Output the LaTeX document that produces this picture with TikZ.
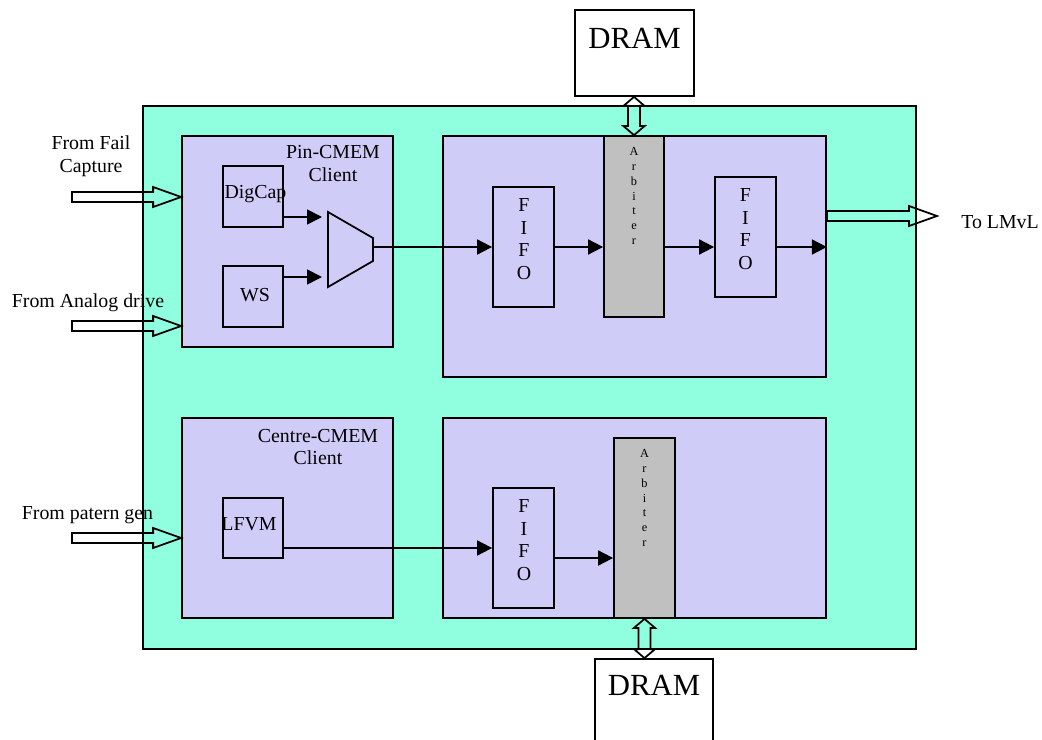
\documentclass[tikz,border=0pt]{standalone}
\usepackage{fontspec}
\setmainfont{Liberation Serif}
\usetikzlibrary{fit,calc,arrows.meta}

\definecolor{chipgreen}{RGB}{143,255,223}
\definecolor{clientblue}{RGB}{208,204,248}
\definecolor{arbgray}{RGB}{192,192,192}

\tikzset{
  blk/.style={draw, line width=1pt, inner sep=0pt},
  client/.style={blk, fill=clientblue},
  arb/.style={blk, fill=arbgray},
  txt/.style={font=\fontsize{11.3}{13}\selectfont, align=center, inner sep=0pt},
  letters/.style={font=\fontsize{11.3}{12.9}\selectfont, align=center, inner sep=0pt},
  smallletters/.style={font=\fontsize{7}{8.5}\selectfont, align=center, inner sep=0pt},
  sig/.style={line width=1pt, -{Triangle[length=8.5pt,width=8.5pt]}},
  hollow/.style={line width=1pt, line join=miter},
}

% hollow block arrow, tail #1, tip #2
\newcommand{\bigarrow}[2]{%
  \draw[hollow] ($(#1)+(0,-5)$) -- ($(#2)+(-28,-5)$) -- ($(#2)+(-28,-10)$) -- (#2)
    -- ($(#2)+(-28,10)$) -- ($(#2)+(-28,5)$) -- ($(#1)+(0,5)$) -- cycle;}
% hollow two-way bus arrow, top #1, bottom #2
\newcommand{\buslink}[2]{%
  \draw[hollow] (#1) -- ($(#1)+(10.5,9)$) -- ($(#1)+(6,9)$) -- ($(#2)+(6,-9)$)
    -- ($(#2)+(10.5,-9)$) -- (#2) -- ($(#2)+(-10.5,-9)$) -- ($(#2)+(-6,-9)$)
    -- ($(#1)+(-6,9)$) -- ($(#1)+(-10.5,9)$) -- cycle;}

\begin{document}
\begin{tikzpicture}[x=0.02cm, y=-0.02cm]
\useasboundingbox (0,0) rectangle (1042,740);

% chip
\node[blk, fill=chipgreen, fit={(143,106) (916,649)}] (chip) {};

% DRAMs
\node[blk, fill=white, fit={(575,10) (694,96)}] (dramtop) {};
\node[font=\fontsize{17.5}{20}\selectfont, inner sep=0pt] (dramtoptxt) at (634.5,38) {DRAM};
\node[blk, fill=white, fit={(595,659) (713,760)}] (drambot) {};
\node[font=\fontsize{17.5}{20}\selectfont, inner sep=0pt] (drambottxt) at (654,685) {DRAM};

% clients
\node[client, fit={(182,136) (393,347)}] (pinclient) {};
\node[txt] (pinlbl) at (333,163.5) {Pin-CMEM\\Client};
\node[client, fit={(182,418) (393,618)}] (centreclient) {};
\node[txt] (centrelbl) at (318,447) {Centre-CMEM\\Client};

% paths
\node[client, fit={(443,136) (826,377)}] (upper) {};
\node[client, fit={(443,418) (826,618)}] (lower) {};

% units
\node[blk, fit={(223,166) (283,227)}] (digcap) {};
\node[txt] (digcaptxt) at (255.5,194) {DigCap};
\node[blk, fit={(223,266) (283,327)}] (ws) {};
\node[txt] (wstxt) at (255,295) {WS};
\node[blk, fit={(223,498) (283,558)}] (lfvm) {};
\node[txt] (lfvmtxt) at (249,524) {LFVM};

\node[blk, fit={(493,187) (554,307)}] (fifoA) {};
\node[letters] (fifoAtxt) at (524,239) {F\\I\\F\\O};
\node[blk, fit={(715,177) (776,297)}] (fifoB) {};
\node[letters] (fifoBtxt) at (745.5,229) {F\\I\\F\\O};
\node[blk, fit={(493,488) (554,608)}] (fifoC) {};
\node[letters] (fifoCtxt) at (524,540) {F\\I\\F\\O};

\node[arb, fit={(604,136) (664,317)}] (arbA) {};
\node[smallletters] (arbAtxt) at (634,196) {A\\r\\b\\i\\t\\e\\r};
\node[arb, fit={(614,438) (675,618)}] (arbB) {};
\node[smallletters] (arbBtxt) at (644.5,498) {A\\r\\b\\i\\t\\e\\r};

% mux
\draw[line width=1pt, fill=clientblue] (328,212) -- (373,238) -- (373,261) -- (328,287) -- cycle;
\coordinate (muxa) at (322,217);
\coordinate (muxb) at (322,277);
\coordinate (muxout) at (373,247);

% signals
\draw[sig] (muxa -| digcap.east) -- (muxa);
\draw[sig] (muxb -| ws.east) -- (muxb);
\draw[sig] (muxout) -- (muxout -| fifoA.west);
\draw[sig] (fifoA.east) -- (fifoA.east -| arbA.west);
\draw[sig] (fifoA.east -| arbA.east) -- (fifoA.east -| fifoB.west);
\draw[sig] (fifoA.east -| fifoB.east) -- (fifoA.east -| upper.east);
\draw[sig] (fifoC.west -| lfvm.east) -- (fifoC.west);
\coordinate (fifoCout) at ($(fifoC.east)+(0,10)$);
\draw[sig] (fifoCout) -- (fifoCout -| arbB.west);

% DRAM buses
\buslink{arbA.north |- dramtop.south}{arbA.north}
\buslink{arbB.south}{arbB.south |- drambot.north}

% inputs
\node[txt] (faillbl) at (91,156) {From Fail\\Capture};
\coordinate (failin) at (72,197);
\coordinate (failtip) at (failin -| pinclient.west);
\bigarrow{failin}{failtip}
\node[txt] (analoglbl) at (88,303) {From Analog drive};
\coordinate (analogin) at (72,326);
\coordinate (analogtip) at (analogin -| pinclient.west);
\bigarrow{analogin}{analogtip}
\node[txt] (patlbl) at (87.5,515) {From patern gen};
\coordinate (patin) at (72,538);
\coordinate (pattip) at (patin -| centreclient.west);
\bigarrow{patin}{pattip}

% output
\coordinate (lmvltip) at (937,216);
\coordinate (lmvlout) at (lmvltip -| upper.east);
\bigarrow{lmvlout}{lmvltip}
\node[txt] (lmvllbl) at (1000,222) {To LMvL};

\end{tikzpicture}
\end{document}
